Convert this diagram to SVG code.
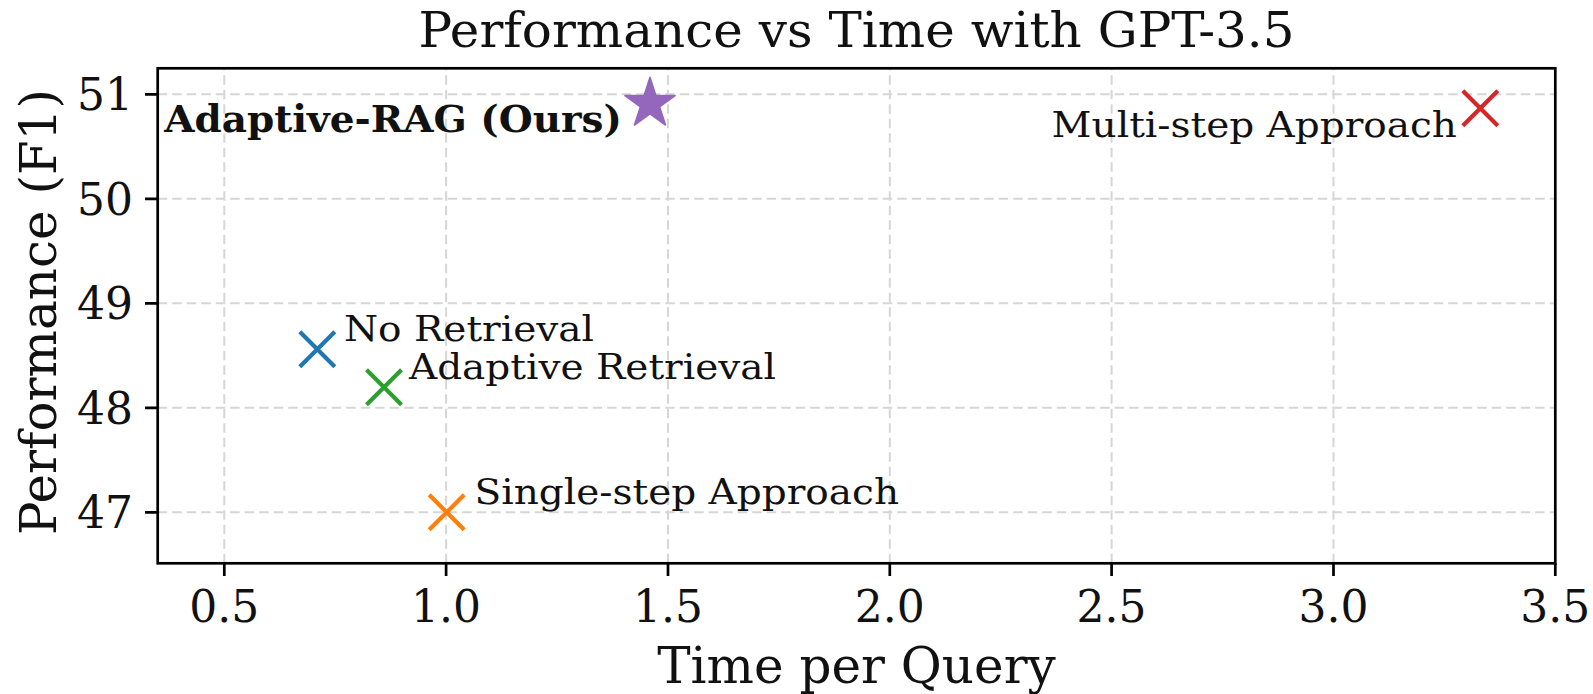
<svg xmlns="http://www.w3.org/2000/svg" width="1593" height="694" viewBox="0 0 1593 694">
<style>
.grid{stroke:#d6d6d6;stroke-width:2;stroke-dasharray:9.5,5;fill:none}
.spine{stroke:#000;stroke-width:2.7;fill:none;stroke-linecap:square}
.tick{stroke:#000;stroke-width:2.7}
.tl{font-family:"DejaVu Serif",serif;font-size:44px;fill:#111}
.ax{font-family:"DejaVu Serif",serif;font-size:50px;fill:#111}
.ann{font-family:"DejaVu Serif",serif;font-size:39px;fill:#111}
.bold{font-family:"DejaVu Serif",serif;font-size:39px;font-weight:bold;fill:#111}
.mk{stroke-width:4.2;fill:none;stroke-linecap:butt}
</style>
<rect width="1593" height="694" fill="#fff"/>
<g id="grid">
<path class="grid" d="M157.7,94.3H1555.3M157.7,198.8H1555.3M157.7,303.3H1555.3M157.7,407.8H1555.3M157.7,512.3H1555.3"/>
<path class="grid" d="M224.3,563.3V68.3M446.1,563.3V68.3M668,563.3V68.3M889.8,563.3V68.3M1111.6,563.3V68.3M1333.5,563.3V68.3"/>
</g>
<g id="axes">
<rect class="spine" x="157.7" y="68.3" width="1397.6" height="495"/>
<path class="tick" d="M145,94.3H157.7M145,198.8H157.7M145,303.3H157.7M145,407.8H157.7M145,512.3H157.7"/>
<path class="tick" d="M224.3,563.3V576M446.1,563.3V576M668,563.3V576M889.8,563.3V576M1111.6,563.3V576M1333.5,563.3V576M1555.3,563.3V576"/>
<g class="tl" text-anchor="end">
<text x="133" y="110">51</text>
<text x="133" y="214.5">50</text>
<text x="133" y="319">49</text>
<text x="133" y="423.5">48</text>
<text x="133" y="528">47</text>
</g>
<g class="tl" text-anchor="middle">
<text x="224.3" y="621.7">0.5</text>
<text x="446.1" y="621.7">1.0</text>
<text x="668" y="621.7">1.5</text>
<text x="889.8" y="621.7">2.0</text>
<text x="1111.6" y="621.7">2.5</text>
<text x="1333.5" y="621.7">3.0</text>
<text x="1555.3" y="621.7">3.5</text>
</g>
<text class="ax" x="856.5" y="683.3" text-anchor="middle">Time per Query</text>
<text class="ax" transform="translate(55.5,312) rotate(-90)" text-anchor="middle">Performance (F1)</text>
<text class="ax" transform="translate(856.5,47) scale(1,0.97)" text-anchor="middle">Performance vs Time with GPT-3.5</text>
</g>
<g id="no-retrieval">
<path class="mk" stroke="#1f77b4" d="M299.8,331.8L334.8,366.8M299.8,366.8L334.8,331.8"/>
<text class="ann" transform="translate(344,341) scale(1,0.92)">No Retrieval</text>
</g>
<g id="adaptive-retrieval">
<path class="mk" stroke="#2ca02c" d="M366.5,369.8L401.5,404.8M366.5,404.8L401.5,369.8"/>
<text class="ann" transform="translate(409,379) scale(1,0.92)">Adaptive Retrieval</text>
</g>
<g id="single-step">
<path class="mk" stroke="#ff7f0e" d="M429.2,494.8L464.2,529.8M429.2,529.8L464.2,494.8"/>
<text class="ann" transform="translate(474.5,504) scale(1,0.92)">Single-step Approach</text>
</g>
<g id="multi-step">
<path class="mk" stroke="#d62728" d="M1462.8,90.8L1497.8,125.8M1462.8,125.8L1497.8,90.8"/>
<text class="ann" transform="translate(1457,136.7) scale(1,0.92)" text-anchor="end">Multi-step Approach</text>
</g>
<g id="adaptive-rag">
<path transform="translate(650,103.7)" fill="#9467bd" stroke="#9467bd" stroke-width="1.5" stroke-linejoin="round" d="M0,-26.4L5.93,-8.16L25.11,-8.16L9.59,3.11L15.52,21.36L0,10.08L-15.52,21.36L-9.59,3.11L-25.11,-8.16L-5.93,-8.16Z"/>
<text class="bold" transform="translate(622,132) scale(1,0.96)" text-anchor="end">Adaptive-RAG (Ours)</text>
</g>
</svg>
